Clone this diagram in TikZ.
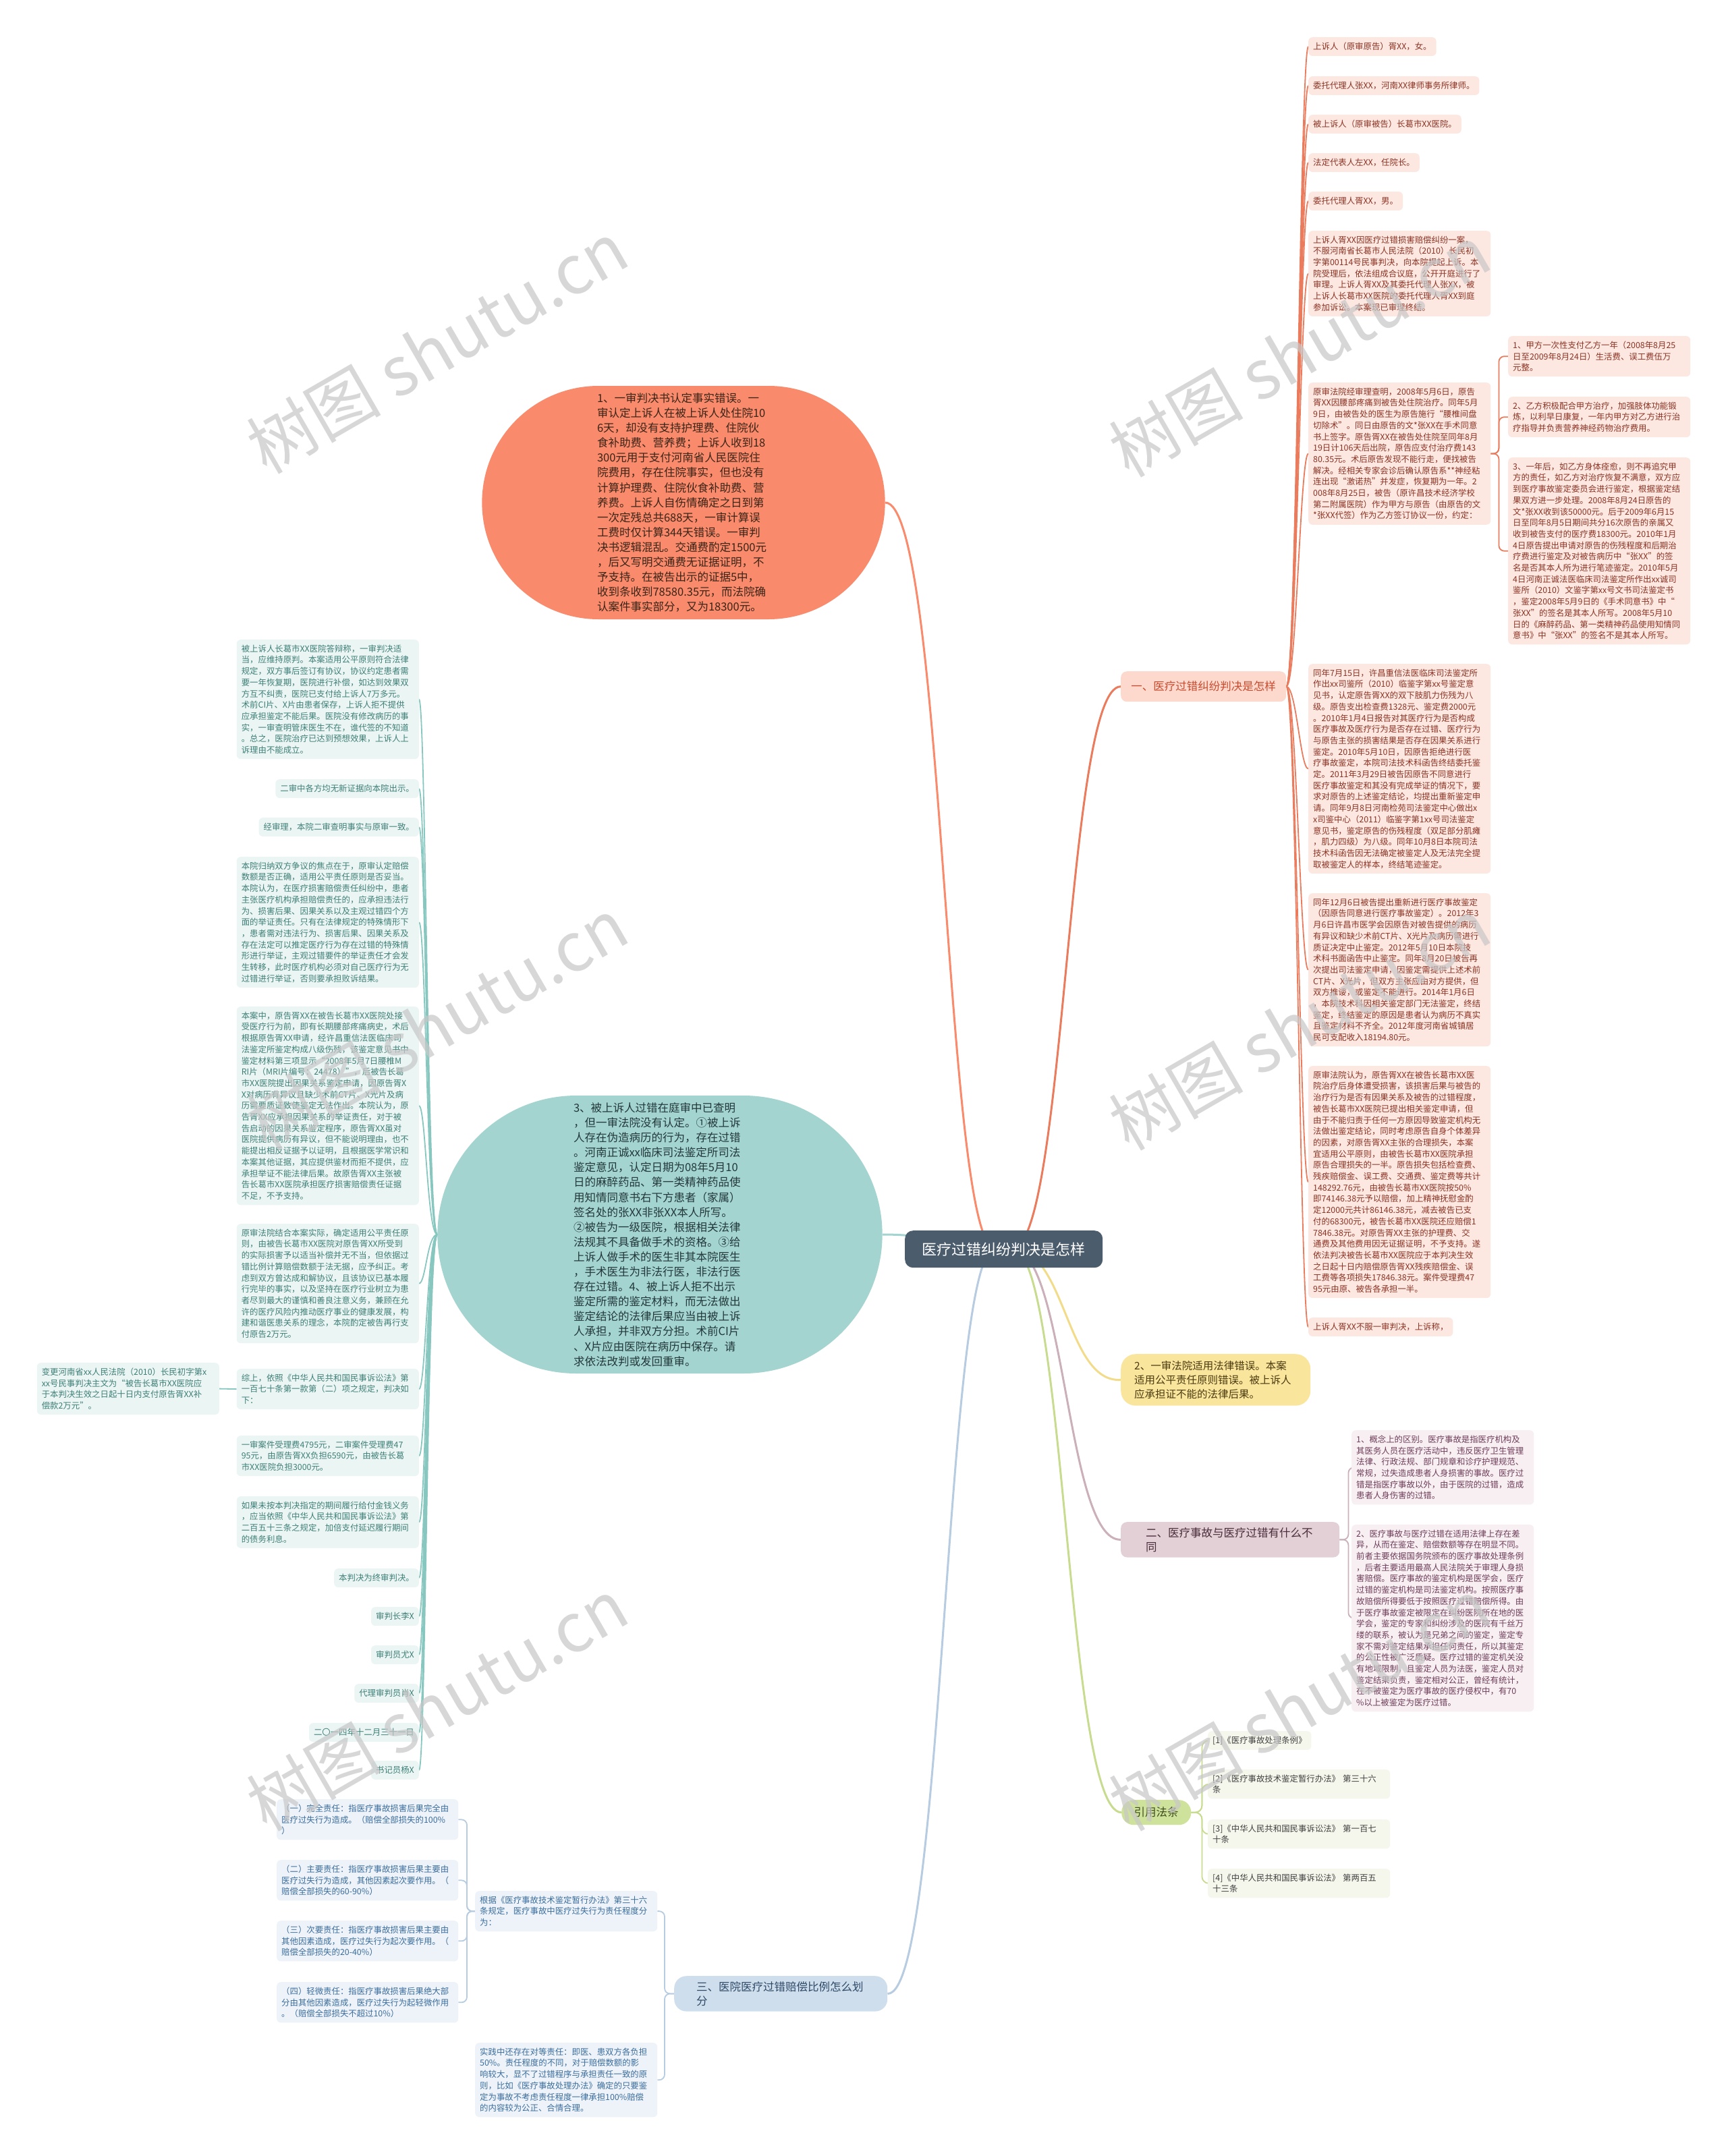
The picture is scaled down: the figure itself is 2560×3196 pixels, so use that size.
\documentclass[tikz,border=0pt]{standalone}
\usepackage{fontspec}
\setmainfont{Noto Sans CJK SC}
\usetikzlibrary{calc,shapes.misc}
\pgfdeclarelayer{bg}\pgfdeclarelayer{lines}\pgfdeclarelayer{top}
\pgfsetlayers{bg,lines,main,top}
\definecolor{rfill}{HTML}{FDE8E1}\definecolor{rtext}{HTML}{8A3324}\definecolor{rline}{HTML}{EA7B5D}
\definecolor{ofill}{HTML}{F98A6B}\definecolor{otext}{HTML}{3B2418}
\definecolor{tfillbig}{HTML}{A4D4D0}\definecolor{ttextbig}{HTML}{22383A}
\definecolor{lfill}{HTML}{EBF5F4}\definecolor{ltext}{HTML}{3E7F77}\definecolor{lline}{HTML}{87C7BF}
\definecolor{cfill}{HTML}{4B5C6D}
\definecolor{bafill}{HTML}{FCD9CC}\definecolor{batext}{HTML}{C84B2F}
\definecolor{yfill}{HTML}{FAE59D}\definecolor{ytext}{HTML}{4A3B10}\definecolor{yline}{HTML}{F2DC8A}
\definecolor{efill2}{HTML}{E3D0D6}\definecolor{etext2}{HTML}{4A2C3A}\definecolor{efill}{HTML}{F7EFF1}\definecolor{etext}{HTML}{6E3D5A}\definecolor{eline}{HTML}{CBB0BA}
\definecolor{gfill2}{HTML}{CFE29B}\definecolor{gtext2}{HTML}{3C4A1C}\definecolor{gfill}{HTML}{F5F7EC}\definecolor{gtext}{HTML}{404040}\definecolor{gline}{HTML}{C8DC8F}
\definecolor{sfill2}{HTML}{CFDEED}\definecolor{stext2}{HTML}{2E4A66}\definecolor{sfill}{HTML}{EEF3F9}\definecolor{stext}{HTML}{3B6D9C}\definecolor{sline}{HTML}{B7CCE0}
\tikzset{
  bx/.style={inner xsep=7pt, inner ysep=7.5pt, rounded corners=6pt, align=left, font=\fontsize{12.4}{16.7}\selectfont},
  oneline/.style={text height=10.7pt, text depth=2pt},
  wbox/.style={text width=256pt},
  rbox/.style={bx, fill=rfill, text=rtext, anchor=north west},
  lbox/.style={bx, fill=lfill, text=ltext, anchor=north east},
  ebox/.style={bx, fill=efill, text=etext, anchor=north west},
  gbox/.style={bx, fill=gfill, text=gtext, anchor=north west},
  sbox/.style={bx, fill=sfill, text=stext, anchor=north west},
  bnode/.style={font=\fontsize{16.5}{21}\selectfont, rounded corners=9pt, anchor=north west, align=left},
  big/.style={rounded rectangle, font=\fontsize{16.5}{22.1}\selectfont, align=left, text width=256pt},
  mainline/.style={line width=3pt},
  subline/.style={line width=1.8pt},
  wm/.style={text=black!22, opacity=0.7, font=\fontsize{100}{100}\selectfont}
}
\newcommand\curveR[3]{\draw[#1] (#2) .. controls ($(#2)+(15,0)$) and ($(#3)+(-12,0)$) .. (#3);}
\newcommand\curveL[3]{\draw[#1] (#2) .. controls ($(#2)+(-15,0)$) and ($(#3)+(10,0)$) .. (#3);}
\begin{document}
\begin{tikzpicture}[x=1pt,y=-1pt]
\begin{pgfonlayer}{bg}
\fill[white] (0,0) rectangle (2560,3196);
\end{pgfonlayer}
\useasboundingbox (0,0) rectangle (2560,3196);

% center
\node[fill=cfill, text=white, rounded corners=12pt, minimum width=293, minimum height=55, font=\fontsize{22}{26}\selectfont, anchor=north west] (c) at (1341,1824) {医疗过错纠纷判决是怎样};

% branch nodes
\node[bnode, fill=bafill, text=batext, minimum width=245, minimum height=45, align=center] (b1) at (1661,995) {一、医疗过错纠纷判决是怎样};
\node[bnode, fill=yfill, text=ytext, text width=241pt, inner xsep=20pt, inner ysep=10pt, rounded corners=22pt, font=\fontsize{15.5}{21}\selectfont] (y2) at (1661,2007) {2、一审法院适用法律错误。本案\\适用公平责任原则错误。被上诉人\\应承担证不能的法律后果。};
\node[bnode, fill=efill2, text=etext2, text width=250pt, inner xsep=37pt, inner ysep=8pt] (b2) at (1661,2256) {二、医疗事故与医疗过错有什么不\\同};
\node[bnode, fill=gfill2, text=gtext2, minimum width=103, minimum height=37, rounded corners=18pt, align=center] (cite) at (1662,2668) {引用法条};
\node[bnode, fill=sfill2, text=stext2, text width=250pt, inner xsep=33pt, inner ysep=8pt, rounded corners=18pt] (b3) at (999,2929) {三、医院医疗过错赔偿比例怎么划\\分};

% big shapes
\node[big, fill=ofill, text=otext, minimum width=604, minimum height=346] (o1) at (1013,745) {1、一审判决书认定事实错误。一\\审认定上诉人在被上诉人处住院10\\6天，却没有支持护理费、住院伙\\食补助费、营养费；上诉人收到18\\300元用于支付河南省人民医院住\\院费用，存在住院事实，但也没有\\计算护理费、住院伙食补助费、营\\养费。上诉人自伤情确定之日到第\\一次定残总共688天，一审计算误\\工费时仅计算344天错误。一审判\\决书逻辑混乱。交通费酌定1500元\\，后又写明交通费无证据证明，不\\予支持。在被告出示的证据5中，\\收到条收到78580.35元，而法院确\\认案件事实部分，又为18300元。};
\node[big, fill=tfillbig, text=ttextbig, minimum width=666, minimum height=412] (t3) at (978,1830) {3、被上诉人过错在庭审中已查明\\，但一审法院没有认定。①被上诉\\人存在伪造病历的行为，存在过错\\。河南正诚xx临床司法鉴定所司法\\鉴定意见，认定日期为08年5月10\\日的麻醉药品、第一类精神药品使\\用知情同意书右下方患者（家属）\\签名处的张XX非张XX本人所写。\\②被告为一级医院，根据相关法律\\法规其不具备做手术的资格。③给\\上诉人做手术的医生非其本院医生\\，手术医生为非法行医，非法行医\\存在过错。4、被上诉人拒不出示\\鉴定所需的鉴定材料，而无法做出\\鉴定结论的法律后果应当由被上诉\\人承担，并非双方分担。术前CI片\\、X片应由医院在病历中保存。请\\求依法改判或发回重审。};

% right column
\node[rbox, oneline] (r1) at (1939,55) {上诉人（原审原告）胥XX，女。};
\node[rbox, oneline] (r2) at (1939,113) {委托代理人张XX，河南XX律师事务所律师。};
\node[rbox, oneline] (r3) at (1939,170) {被上诉人（原审被告）长葛市XX医院。};
\node[rbox, oneline] (r4) at (1939,227) {法定代表人左XX，任院长。};
\node[rbox, oneline] (r5) at (1939,284) {委托代理人胥XX，男。};
\node[rbox, wbox] (r6) at (1939,342) {上诉人胥XX因医疗过错损害赔偿纠纷一案，\\不服河南省长葛市人民法院（2010）长民初\\字第00114号民事判决，向本院提起上诉。本\\院受理后，依法组成合议庭，公开开庭进行了\\审理。上诉人胥XX及其委托代理人张XX，被\\上诉人长葛市XX医院的委托代理人胥XX到庭\\参加诉讼。本案现已审理终结。};
\node[rbox, wbox] (r7) at (1939,567) {原审法院经审理查明，2008年5月6日，原告\\胥XX因腰部疼痛到被告处住院治疗。同年5月\\9日，由被告处的医生为原告施行“腰椎间盘\\切除术”。同日由原告的文*张XX在手术同意\\书上签字。原告胥XX在被告处住院至同年8月\\19日计106天后出院，原告应支付治疗费143\\80.35元。术后原告发现不能行走，便找被告\\解决。经相关专家会诊后确认原告系**神经粘\\连出现“激诺热”并发症，恢复期为一年。2\\008年8月25日，被告（原许昌技术经济学校\\第二附属医院）作为甲方与原告（由原告的文\\{}*张XX代签）作为乙方签订协议一份，约定：};
\node[rbox, wbox] (r7a) at (2235,498) {1、甲方一次性支付乙方一年（2008年8月25\\日至2009年8月24日）生活费、误工费伍万\\元整。};
\node[rbox, wbox] (r7b) at (2235,588) {2、乙方积极配合甲方治疗，加强肢体功能锻\\炼，以利早日康复，一年内甲方对乙方进行治\\疗指导并负责营养神经药物治疗费用。};
\node[rbox, wbox] (r7c) at (2235,678) {3、一年后，如乙方身体痊愈，则不再追究甲\\方的责任，如乙方对治疗恢复不满意，双方应\\到医疗事故鉴定委员会进行鉴定，根据鉴定结\\果双方进一步处理。2008年8月24日原告的\\文*张XX收到该50000元。后于2009年6月15\\日至同年8月5日期间共分16次原告的亲属又\\收到被告支付的医疗费18300元。2010年1月\\4日原告提出申请对原告的伤残程度和后期治\\疗费进行鉴定及对被告病历中“张XX”的签\\名是否其本人所为进行笔迹鉴定。2010年5月\\4日河南正诚法医临床司法鉴定所作出xx诚司\\鉴所（2010）文鉴字第xx号文书司法鉴定书\\，鉴定2008年5月9日的《手术同意书》中“\\张XX”的签名是其本人所写。2008年5月10\\日的《麻醉药品、第一类精神药品使用知情同\\意书》中“张XX”的签名不是其本人所写。};
\node[rbox, wbox] (r8) at (1939,984) {同年7月15日，许昌重信法医临床司法鉴定所\\作出xx司鉴所（2010）临鉴字第xx号鉴定意\\见书，认定原告胥XX的双下肢肌力伤残为八\\级。原告支出检查费1328元、鉴定费2000元\\。2010年1月4日报告对其医疗行为是否构成\\医疗事故及医疗行为是否存在过错、医疗行为\\与原告主张的损害结果是否存在因果关系进行\\鉴定。2010年5月10日，因原告拒绝进行医\\疗事故鉴定，本院司法技术科函告终结委托鉴\\定。2011年3月29日被告因原告不同意进行\\医疗事故鉴定和其没有完成举证的情况下，要\\求对原告的上述鉴定结论，均提出重新鉴定申\\请。同年9月8日河南检苑司法鉴定中心做出x\\x司鉴中心（2011）临鉴字第1xx号司法鉴定\\意见书，鉴定原告的伤残程度（双足部分肌瘫\\，肌力四级）为八级。同年10月8日本院司法\\技术科函告因无法确定被鉴定人及无法完全提\\取被鉴定人的样本，终结笔迹鉴定。};
\node[rbox, wbox] (r9) at (1939,1324) {同年12月6日被告提出重新进行医疗事故鉴定\\（因原告同意进行医疗事故鉴定）。2012年3\\月6日许昌市医学会因原告对被告提供的病历\\有异议和缺少术前CT片、X光片及病历需进行\\质证决定中止鉴定。2012年5月10日本院技\\术科书面函告中止鉴定。同年8月20日被告再\\次提出司法鉴定申请，因鉴定需提供上述术前\\CT片、X光片，但双方主张应由对方提供，但\\双方推诿，或鉴定不能进行。2014年1月6日\\，本院技术科因相关鉴定部门无法鉴定，终结\\鉴定，终结鉴定的原因是患者认为病历不真实\\且鉴定材料不齐全。2012年度河南省城镇居\\民可支配收入18194.80元。};
\node[rbox, wbox] (r10) at (1939,1580) {原审法院认为，原告胥XX在被告长葛市XX医\\院治疗后身体遭受损害，该损害后果与被告的\\治疗行为是否有因果关系及被告的过错程度，\\被告长葛市XX医院已提出相关鉴定申请，但\\由于不能归责于任何一方原因导致鉴定机构无\\法做出鉴定结论，同时考虑原告自身个体差异\\的因素，对原告胥XX主张的合理损失，本案\\宜适用公平原则，由被告长葛市XX医院承担\\原告合理损失的一半。原告损失包括检查费、\\残疾赔偿金、误工费、交通费、鉴定费等共计\\148292.76元，由被告长葛市XX医院按50\%\\即74146.38元予以赔偿，加上精神抚慰金酌\\定12000元共计86146.38元，减去被告已支\\付的68300元，被告长葛市XX医院还应赔偿1\\7846.38元。对原告胥XX主张的护理费、交\\通费及其他费用因无证据证明，不予支持。遂\\依法判决被告长葛市XX医院应于本判决生效\\之日起十日内赔偿原告胥XX残疾赔偿金、误\\工费等各项损失17846.38元。案件受理费47\\95元由原、被告各承担一半。};
\node[rbox, oneline] (r11) at (1939,1953) {上诉人胥XX不服一审判决，上诉称，};

% left column
\node[lbox, wbox] (l1) at (621,948) {被上诉人长葛市XX医院答辩称，一审判决适\\当，应维持原判。本案适用公平原则符合法律\\规定，双方事后签订有协议，协议约定患者需\\要一年恢复期，医院进行补偿，如达到效果双\\方互不纠责，医院已支付给上诉人7万多元。\\术前CI片、X片由患者保存，上诉人拒不提供\\应承担鉴定不能后果。医院没有修改病历的事\\实，一审查明管床医生不在，谁代签的不知道\\。总之，医院治疗已达到预想效果，上诉人上\\诉理由不能成立。};
\node[lbox, oneline] (l2) at (621,1155) {二审中各方均无新证据向本院出示。};
\node[lbox, oneline] (l3) at (621,1212) {经审理，本院二审查明事实与原审一致。};
\node[lbox, wbox] (l4) at (621,1270) {本院归纳双方争议的焦点在于，原审认定赔偿\\数额是否正确，适用公平责任原则是否妥当。\\本院认为，在医疗损害赔偿责任纠纷中，患者\\主张医疗机构承担赔偿责任的，应承担违法行\\为、损害后果、因果关系以及主观过错四个方\\面的举证责任。只有在法律规定的特殊情形下\\，患者需对违法行为、损害后果、因果关系及\\存在法定可以推定医疗行为存在过错的特殊情\\形进行举证，主观过错要件的举证责任才会发\\生转移，此时医疗机构必须对自己医疗行为无\\过错进行举证，否则要承担败诉结果。};
\node[lbox, wbox] (l5) at (621,1492) {本案中，原告胥XX在被告长葛市XX医院处接\\受医疗行为前，即有长期腰部疼痛病史，术后\\根据原告胥XX申请，经许昌重信法医临床司\\法鉴定所鉴定构成八级伤残，该鉴定意见书中\\鉴定材料第三项显示“2008年5月7日腰椎M\\RI片（MRI片编号：24478）”，后被告长葛\\市XX医院提出因果关系鉴定申请，因原告胥X\\X对病历有异议且缺少术前CT片、X光片及病\\历需要质证致使鉴定无法作出。本院认为，原\\告胥XX应承担因果关系的举证责任，对于被\\告启动的因果关系鉴定程序，原告胥XX虽对\\医院提供病历有异议，但不能说明理由，也不\\能提出相反证据予以证明，且根据医学常识和\\本案其他证据，其应提供鉴材而拒不提供，应\\承担举证不能法律后果。故原告胥XX主张被\\告长葛市XX医院承担医疗损害赔偿责任证据\\不足，不予支持。};
\node[lbox, wbox] (l6) at (621,1814) {原审法院结合本案实际，确定适用公平责任原\\则，由被告长葛市XX医院对原告胥XX所受到\\的实际损害予以适当补偿并无不当，但依据过\\错比例计算赔偿数额于法无据，应予纠正。考\\虑到双方曾达成和解协议，且该协议已基本履\\行完毕的事实，以及坚持在医疗行业树立为患\\者尽到最大的谨慎和善良注意义务，兼顾在允\\许的医疗风险内推动医疗事业的健康发展，构\\建和谐医患关系的理念，本院酌定被告再行支\\付原告2万元。};
\node[lbox, wbox] (l7) at (621,2029) {综上，依照《中华人民共和国民事诉讼法》第\\一百七十条第一款第（二）项之规定，判决如\\下：};
\node[lbox, wbox] (l7c) at (325,2020) {变更河南省xx人民法院（2010）长民初字第x\\xx号民事判决主文为“被告长葛市XX医院应\\于本判决生效之日起十日内支付原告胥XX补\\偿款2万元”。};
\node[lbox, wbox] (l8) at (621,2128) {一审案件受理费4795元，二审案件受理费47\\95元，由原告胥XX负担6590元，由被告长葛\\市XX医院负担3000元。};
\node[lbox, wbox] (l9) at (621,2218) {如果未按本判决指定的期间履行给付金钱义务\\，应当依照《中华人民共和国民事诉讼法》第\\二百五十三条之规定，加倍支付延迟履行期间\\的债务利息。};
\node[lbox, oneline] (l10) at (621,2325) {本判决为终审判决。};
\node[lbox, oneline] (l11) at (621,2382) {审判长李X};
\node[lbox, oneline] (l12) at (621,2439) {审判员尤X};
\node[lbox, oneline] (l13) at (621,2496) {代理审判员肖X};
\node[lbox, oneline] (l14) at (621,2554) {二〇一四年十二月三十一日};
\node[lbox, oneline] (l15) at (621,2610) {书记员杨X};

% branch two children
\node[ebox, wbox] (e1) at (2003,2120) {1、概念上的区别。医疗事故是指医疗机构及\\其医务人员在医疗活动中，违反医疗卫生管理\\法律、行政法规、部门规章和诊疗护理规范、\\常规，过失造成患者人身损害的事故。医疗过\\错是指医疗事故以外，由于医院的过错，造成\\患者人身伤害的过错。};
\node[ebox, wbox] (e2) at (2003,2260) {2、医疗事故与医疗过错在适用法律上存在差\\异，从而在鉴定、赔偿数额等存在明显不同。\\前者主要依据国务院颁布的医疗事故处理条例\\，后者主要适用最高人民法院关于审理人身损\\害赔偿。医疗事故的鉴定机构是医学会，医疗\\过错的鉴定机构是司法鉴定机构。按照医疗事\\故赔偿所得要低于按照医疗过错赔偿所得。由\\于医疗事故鉴定被限定在纠纷医院所在地的医\\学会，鉴定的专家和纠纷涉及的医院有千丝万\\缕的联系，被认为是兄弟之间的鉴定，鉴定专\\家不需对鉴定结果承担任何责任，所以其鉴定\\的公正性被广泛质疑。医疗过错的鉴定机关没\\有地域限制，且鉴定人员为法医，鉴定人员对\\鉴定结果负责，鉴定相对公正，曾经有统计，\\在不被鉴定为医疗事故的医疗侵权中，有70\\\%以上被鉴定为医疗过错。};

% citations
\node[gbox, oneline] (g1) at (1790,2566) {[1]《医疗事故处理条例》};
\node[gbox, wbox] (g2) at (1790,2623) {[2]《医疗事故技术鉴定暂行办法》 第三十六\\条};
\node[gbox, wbox] (g3) at (1790,2697) {[3]《中华人民共和国民事诉讼法》 第一百七\\十条};
\node[gbox, wbox] (g4) at (1790,2770) {[4]《中华人民共和国民事诉讼法》 第两百五\\十三条};

% branch three children
\node[sbox, wbox] (s1) at (704,2803) {根据《医疗事故技术鉴定暂行办法》第三十六\\条规定，医疗事故中医疗过失行为责任程度分\\为：};
\node[sbox, wbox] (s2) at (704,3028) {实践中还存在对等责任：即医、患双方各负担\\50\%。责任程度的不同，对于赔偿数额的影\\响较大，显不了过错程序与承担责任一致的原\\则，比如《医疗事故处理办法》确定的只要鉴\\定为事故不考虑责任程度一律承担100\%赔偿\\的内容较为公正、合情合理。};
\node[sbox, text width=255pt] (s1a) at (410,2667) {（一）完全责任：指医疗事故损害后果完全由\\医疗过失行为造成。（赔偿全部损失的100\%\\）};
\node[sbox, text width=255pt] (s1b) at (410,2757) {（二）主要责任：指医疗事故损害后果主要由\\医疗过失行为造成，其他因素起次要作用。（\\赔偿全部损失的60-90\%）};
\node[sbox, text width=255pt] (s1c) at (410,2847) {（三）次要责任：指医疗事故损害后果主要由\\其他因素造成，医疗过失行为起次要作用。（\\赔偿全部损失的20-40\%）};
\node[sbox, text width=255pt] (s1d) at (410,2938) {（四）轻微责任：指医疗事故损害后果绝大部\\分由其他因素造成，医疗过失行为起轻微作用\\。（赔偿全部损失不超过10\%）};

\begin{pgfonlayer}{lines}
% center connectors
\coordinate (cr) at (1500,1851);
\coordinate (cl) at (1475,1851);
\draw[mainline, draw=rline] (cr) .. controls (1580,1851) and (1580,1017) .. (b1.west);
\draw[mainline, draw=yline] (cr) .. controls (1580,1851) and (1580,2050) .. (y2.west);
\draw[mainline, draw=eline] (cr) .. controls (1580,1851) and (1580,2285) .. (b2.west);
\draw[mainline, draw=gline] (cr) .. controls (1580,1851) and (1580,2686) .. (cite.west);
\draw[mainline, draw=ofill] (cl) .. controls (1400,1851) and (1400,745) .. (o1.east);
\draw[mainline, draw=tfillbig] (cl) .. controls (1400,1851) and (1400,1830) .. (t3.east);
\draw[mainline, draw=sline] (cl) .. controls (1400,1851) and (1400,2958) .. (b3.east);
% right column
\foreach \n in {r1,r2,r3,r4,r5,r6,r7,r8,r9,r10,r11} {\curveR{subline, draw=rline}{b1.east}{\n.west}}
\foreach \n in {r7a,r7b,r7c} {\draw[subline, draw=rline, rounded corners=8pt] (r7.east) -- ($(r7.east)+(12,0)$) |- (\n.west);}
% left column
\foreach \n in {l1,l2,l3,l4,l5,l6,l7,l8,l9,l10,l11,l12,l13,l14,l15} {\curveL{subline, draw=lline}{t3.west}{\n.east}}
\draw[subline, draw=lline] (l7.west) -- (l7c.east);
% branch two
\foreach \n in {e1,e2} {\draw[subline, draw=eline, rounded corners=8pt] (b2.east) -- ($(b2.east)+(13,0)$) |- (\n.west);}
% citations
\foreach \n in {g1,g2,g3,g4} {\draw[subline, draw=gline, rounded corners=10pt] (cite.east) -- ($(cite.east)+(16,0)$) |- (\n.west);}
% branch three
\foreach \n in {s1,s2} {\draw[subline, draw=sline, rounded corners=8pt] (b3.west) -- ($(b3.west)+(-14,0)$) |- (\n.east);}
\foreach \n in {s1a,s1b,s1c,s1d} {\draw[subline, draw=sline, rounded corners=8pt] (s1.west) -- ($(s1.west)+(-12,0)$) |- (\n.east);}
\end{pgfonlayer}

\begin{pgfonlayer}{top}
\foreach \p in {(648,515),(1926,520),(648,1518),(1926,1518),(648,2527),(1926,2527)} {\node[wm, rotate=30] at \p {树图 shutu.cn};}
\end{pgfonlayer}
\end{tikzpicture}
\end{document}
